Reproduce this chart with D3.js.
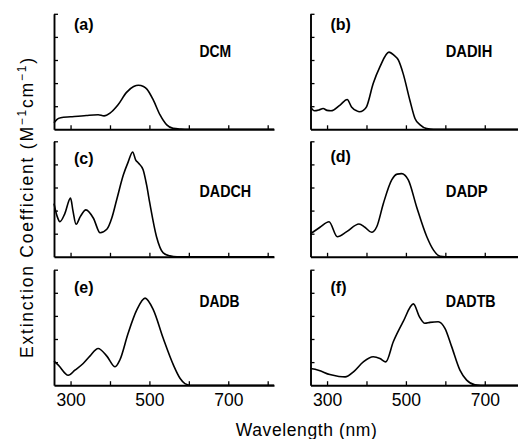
<!DOCTYPE html>
<html>
<head>
<meta charset="utf-8">
<script src="https://cdn.jsdelivr.net/npm/d3@7"></script>
<style>
  html, body { margin: 0; padding: 0; background: #fff; }
  svg { display: block; }
  text { font-family: "Liberation Sans", Arial, sans-serif; fill: #000; }
</style>
</head>
<body>
<svg id="chart" width="518" height="439"></svg>
<script>
// ---------- data ----------
const panelLetters = ["(a)", "(b)", "(c)", "(d)", "(e)", "(f)"];
const panelNames = ["DCM", "DADIH", "DADCH", "DADP", "DADB", "DADTB"];
const xTickValues = [300, 400, 500, 600, 700, 800];
const xTickLabels = ["300", "", "500", "", "700", ""];
const yTickValues = [1, 2, 3, 4, 5];
const xLabel = "Wavelength (nm)";

// wavelength (nm) and extinction (axis-tick units) per panel
const wlDCM  = [258, 265, 275, 300, 340, 370, 385, 400, 420, 442, 460, 472, 485, 493, 510, 527, 544, 560, 580, 600, 816];
const valDCM = [0.28, 0.42, 0.50, 0.54, 0.60, 0.63, 0.58, 0.70, 1.05, 1.60, 1.85, 1.91, 1.85, 1.75, 1.26, 0.62, 0.19, 0.04, 0.01, 0, 0];

const wlDADIH  = [258, 268, 280, 290, 300, 310, 333, 351, 362, 375, 382, 392, 400, 417, 434, 457, 470, 481, 493, 510, 523, 536, 553, 570, 816];
const valDADIH = [0.97, 0.80, 0.84, 0.90, 0.82, 0.80, 1.05, 1.29, 0.97, 0.80, 0.76, 0.82, 0.97, 1.98, 2.70, 3.34, 3.20, 2.99, 2.41, 1.26, 0.47, 0.19, 0.03, 0, 0];

const wlDADCH  = [258, 266, 273, 285, 300, 306, 314, 325, 339, 358, 375, 392, 405, 417, 434, 446, 457.5, 465, 472, 484, 493, 501, 518, 535, 552, 570, 816];
const valDADCH = [2.30, 1.75, 1.52, 1.85, 2.54, 2.00, 1.41, 1.75, 2.03, 1.67, 1.04, 1.19, 1.70, 2.47, 3.55, 4.10, 4.54, 4.20, 4.06, 3.77, 3.10, 2.32, 0.87, 0.17, 0.04, 0, 0];

const wlDADP  = [258, 282, 305, 326, 350, 381, 396, 413, 426, 443, 464, 478, 489, 506, 527, 553, 570, 587, 600, 816];
const valDADP = [1.00, 1.28, 1.52, 0.87, 1.09, 1.42, 1.28, 1.06, 1.30, 2.32, 3.33, 3.58, 3.60, 3.33, 2.17, 0.87, 0.29, 0.02, 0, 0];

const wlDADB  = [258, 269, 294, 311, 332, 349, 370, 392, 413, 425, 446, 468, 489, 510, 535, 561, 578, 590, 603, 816];
const valDADB = [1.04, 0.87, 0.43, 0.65, 0.94, 1.26, 1.59, 1.26, 0.80, 1.09, 2.25, 3.26, 3.77, 3.26, 2.03, 0.87, 0.29, 0.07, 0, 0];

const wlDADTB  = [258, 278, 307, 330, 346, 367, 392, 417, 434, 449, 468, 493, 519, 534, 548, 561, 582, 599, 616, 637, 654, 675, 690, 816];
const valDADTB = [0.72, 0.65, 0.46, 0.38, 0.36, 0.58, 1.01, 1.23, 1.16, 1.01, 1.88, 2.75, 3.52, 2.97, 2.68, 2.72, 2.75, 2.46, 1.67, 0.65, 0.22, 0.02, 0, 0];

const seriesWl  = [wlDCM, wlDADIH, wlDADCH, wlDADP, wlDADB, wlDADTB];
const seriesVal = [valDCM, valDADIH, valDADCH, valDADP, valDADB, valDADTB];

// ---------- layout ----------
const xDomain = [258, 816];
const yDomain = [0, 5];
const colX0 = [54, 310.5];
const plotW = 220;
const rowBottom = [129.3, 256.8, 385.2];
const plotH = 115.5;
// label baselines relative to panel bottom
const letterBaseline = [29.6, 29.6, 164, 161.7, 293.3, 293.3];
const nameBaseline = [56.7, 56.7, 197.3, 197.3, 306.7, 306.7];
const nameX = [199.5, 445.7];
const nameWidths = [31.7, 46.6, 51.7, 42, 40, 50];

const svg = d3.select("#chart");

panelNames.forEach((name, i) => {
  const col = i % 2, row = Math.floor(i / 2);
  const x0 = colX0[col];
  const yb = rowBottom[row];
  const x = d3.scaleLinear().domain(xDomain).range([x0, x0 + plotW]);
  const y = d3.scaleLinear().domain(yDomain).range([yb, yb - plotH]);
  const g = svg.append("g");

  // x axis
  const xa = d3.axisBottom(x).tickValues(xTickValues).tickSizeInner(-4).tickSizeOuter(0)
    .tickPadding(8)
    .tickFormat((d, k) => row === 2 ? xTickLabels[k] : "");
  const gx = g.append("g").attr("transform", `translate(0,${yb})`).call(xa);
  gx.select(".domain").attr("stroke-width", 1.9);
  gx.selectAll(".tick line").attr("stroke-width", 1.3);
  gx.selectAll(".tick text").attr("font-size", 17.5).attr("font-family", "Liberation Sans, Arial, sans-serif");

  // y axis
  const ya = d3.axisLeft(y).tickValues(yTickValues).tickSizeInner(-4).tickSizeOuter(0).tickFormat("");
  const gy = g.append("g").attr("transform", `translate(${x0},0)`).call(ya);
  gy.select(".domain").attr("stroke-width", 1.9);
  gy.selectAll(".tick line").attr("stroke-width", 1.3);

  // curve
  const pts = seriesWl[i].map((w, k) => [w, seriesVal[i][k]]);
  const line = d3.line().x(d => x(d[0])).y(d => y(d[1])).curve(d3.curveMonotoneX);
  g.append("path").datum(pts).attr("d", line)
    .attr("fill", "none").attr("stroke", "#000").attr("stroke-width", 1.6)
    .attr("stroke-linejoin", "round");

  // letters
  g.append("text").attr("x", x0 + 20).attr("y", letterBaseline[i])
    .attr("font-size", 16).attr("font-weight", "bold")
    .text(panelLetters[i]);
  // names
  g.append("text").attr("x", nameX[col]).attr("y", nameBaseline[i])
    .attr("font-size", 16.3).attr("font-weight", "bold")
    .attr("textLength", nameWidths[i]).attr("lengthAdjust", "spacingAndGlyphs")
    .text(name);
});

// x label
svg.append("text").attr("x", 306.3).attr("y", 436).attr("text-anchor", "middle")
  .attr("font-size", 17.5).attr("textLength", 141).attr("lengthAdjust", "spacing")
  .text(xLabel);

// y label
const yl = svg.append("text")
  .attr("transform", "translate(32.5,208) rotate(-90)")
  .attr("text-anchor", "middle").attr("font-size", 17.5)
  .attr("textLength", 300).attr("lengthAdjust", "spacing");
yl.append("tspan").text("Extinction  Coefficient  (M");
yl.append("tspan").attr("dy", -7).attr("font-size", 12).text("\u22121");
yl.append("tspan").attr("dy", 7).text("cm");
yl.append("tspan").attr("dy", -7).attr("font-size", 12).text("\u22121");
yl.append("tspan").attr("dy", 7).text(")");
</script>
</body>
</html>
